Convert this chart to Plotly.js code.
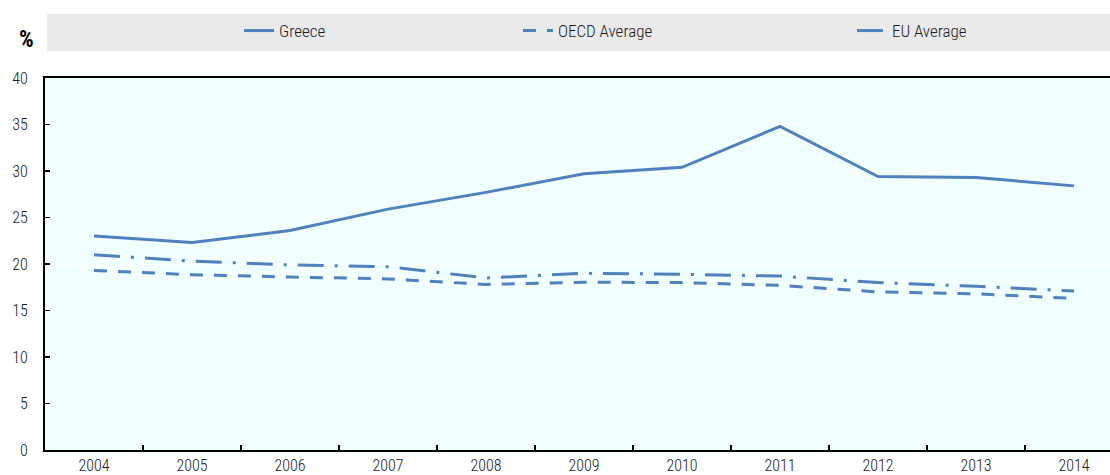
<!DOCTYPE html>
<html>
<head>
<meta charset="utf-8">
<script src="https://cdn.plot.ly/plotly-3.0.1.min.js"></script>
<style>
  html, body { margin: 0; padding: 0; background: #fff; overflow: hidden; }
</style>
</head>
<body>
<div id="chart" style="width:1110px;height:475px;"></div>
<script>
// years on the x axis
var years = ['2004', '2005', '2006', '2007', '2008', '2009', '2010', '2011', '2012', '2013', '2014'];

// values in %
var greece = [23.0, 22.3, 23.6, 25.9, 27.7, 29.7, 30.4, 34.8, 29.4, 29.3, 28.4];
var oecdAvg = [19.3, 18.85, 18.6, 18.4, 17.8, 18.05, 18.0, 17.7, 17.0, 16.8, 16.3];
var euAvg = [21.0, 20.3, 19.9, 19.7, 18.5, 19.0, 18.9, 18.7, 18.0, 17.6, 17.1];

var blue = '#4F81BD';
var fnt = 'Roboto Condensed, Liberation Sans, sans-serif';

var trace1 = {
  x: years,
  y: greece,
  name: 'Greece',
  type: 'scatter',
  mode: 'lines',
  line: { color: blue, width: 3 },
  legend: 'legend'
};

var trace2 = {
  x: years,
  y: oecdAvg,
  name: 'OECD Average',
  type: 'scatter',
  mode: 'lines',
  line: { color: blue, width: 3, dash: '13px,11px' },
  legend: 'legend2'
};

var trace3 = {
  x: years,
  y: euAvg,
  name: 'EU Average',
  type: 'scatter',
  mode: 'lines',
  line: { color: blue, width: 3, dash: '26px,11px,3px,11px' },
  legend: 'legend3'
};

var data = [trace1, trace2, trace3];

function legendAt(x) {
  return {
    orientation: 'h',
    x: x,
    y: 1.1263,
    xanchor: 'left',
    yanchor: 'middle',
    bgcolor: 'rgba(0,0,0,0)',
    font: { family: fnt, size: 17, weight: 300, color: '#1a1a1a' }
  };
}

var tickFont = { family: fnt, size: 16, weight: 300, color: '#1a1a1a' };

var layout = {
  width: 1110,
  height: 475,
  margin: { l: 45, r: 0, t: 78, b: 25 },
  paper_bgcolor: '#ffffff',
  plot_bgcolor: '#F2FFFF',
  font: { family: fnt, size: 16, weight: 300, color: '#1a1a1a' },
  showlegend: true,
  legend: legendAt(0.1822),
  legend2: legendAt(0.4441),
  legend3: legendAt(0.7577),
  xaxis: {
    type: 'category',
    range: [-0.5, 10.367],
    tickson: 'boundaries',
    ticks: 'inside',
    ticklen: 5,
    tickwidth: 1.5,
    tickcolor: '#000',
    tickfont: tickFont,
    showline: true,
    linecolor: '#000',
    linewidth: 2,
    mirror: true,
    showgrid: true,
    gridcolor: '#ffffff',
    gridwidth: 1,
    ticklabelstandoff: 0,
    fixedrange: true
  },
  yaxis: {
    range: [0, 40],
    dtick: 5,
    ticks: 'inside',
    ticklen: 5,
    tickwidth: 1.5,
    tickcolor: '#000',
    tickfont: tickFont,
    showline: true,
    linecolor: '#000',
    linewidth: 2,
    showgrid: true,
    gridcolor: '#ffffff',
    gridwidth: 1,
    zeroline: false,
    ticklabelstandoff: 12,
    fixedrange: true
  },
  shapes: [{
    type: 'rect',
    xref: 'paper',
    yref: 'paper',
    x0: 0.0019,
    x1: 1,
    y0: 1.0726,
    y1: 1.1720,
    fillcolor: '#EAEAEA',
    line: { width: 0 },
    layer: 'below'
  }],
  annotations: [{
    text: '%',
    xref: 'paper',
    yref: 'paper',
    x: -0.0178,
    y: 1.1022,
    xanchor: 'center',
    yanchor: 'middle',
    showarrow: false,
    font: { family: fnt, size: 23, weight: 700, color: '#000' }
  }]
};

Plotly.newPlot('chart', data, layout, { displayModeBar: false, staticPlot: true });
</script>
</body>
</html>
